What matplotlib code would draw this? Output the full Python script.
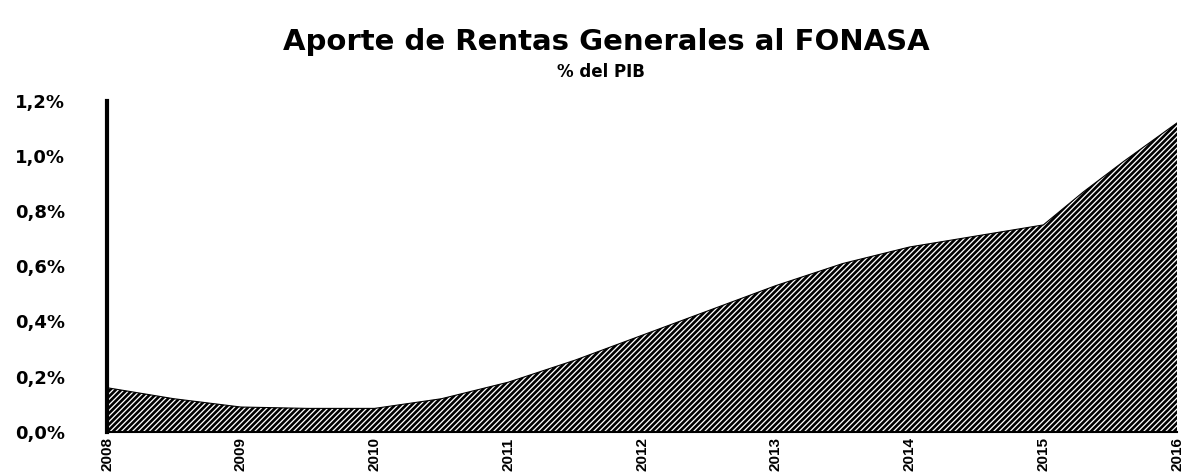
import numpy as np
import matplotlib.pyplot as plt
import matplotlib as mpl

# values (% of GDP)
periodo = [2008, 2008.5, 2009, 2009.5, 2010, 2010.5, 2011, 2011.5, 2012, 2012.5,
           2013, 2013.5, 2014, 2014.5, 2015, 2015.3, 2015.6, 2016]
aporte = [0.16, 0.12, 0.09, 0.085, 0.085, 0.12, 0.18, 0.26, 0.35, 0.44,
          0.53, 0.61, 0.67, 0.71, 0.75, 0.87, 0.98, 1.12]
anios = [2008, 2009, 2010, 2011, 2012, 2013, 2014, 2015, 2016]
yticks = [0.0, 0.2, 0.4, 0.6, 0.8, 1.0, 1.2]

mpl.rcParams['hatch.linewidth'] = 1.9

fig = plt.figure(figsize=(11.89, 4.73), dpi=100)
ax = fig.add_axes([0.09, 0.087, 0.9, 0.70])

ax.fill_between(periodo, aporte, 0, facecolor='white', edgecolor='black',
                hatch='//////', linewidth=0)
ax.plot(periodo, aporte, color='black', lw=0.8)

ax.set_xlim(2008, 2016)
ax.set_ylim(0, 1.2)
ax.set_yticks(yticks)
ax.set_yticklabels([('%.1f%%' % v).replace('.', ',') for v in yticks],
                   fontsize=13, fontweight='bold', family='DejaVu Sans')
ax.set_xticks(anios)
ax.set_xticklabels([str(a) for a in anios], rotation=90, fontsize=11,
                   fontweight='bold', family='Liberation Sans')
ax.tick_params(length=0, pad=4)
ax.tick_params(axis='y', pad=30)

for s in ['top', 'right']:
    ax.spines[s].set_visible(False)
ax.spines['left'].set_linewidth(3)
ax.spines['bottom'].set_linewidth(1.5)

fig.text(0.51, 0.895, 'Aporte de Rentas Generales al FONASA', ha='center',
         fontsize=21, fontweight='bold', family='DejaVu Sans')
fig.text(0.505, 0.838, '% del PIB', ha='center', fontsize=12,
         fontweight='bold', family='DejaVu Sans')

fig.savefig('out.png', dpi=100)
